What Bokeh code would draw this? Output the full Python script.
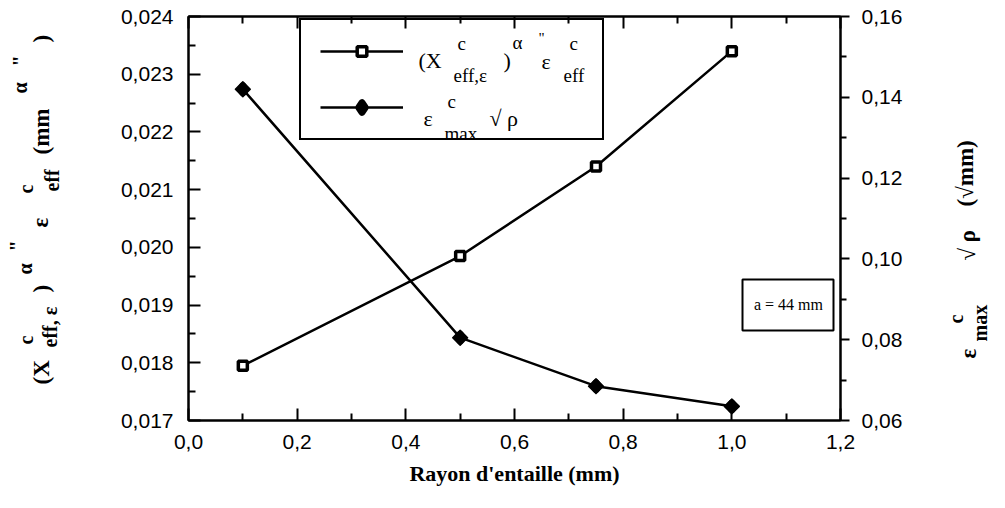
import numpy as np
from bokeh.plotting import figure
from bokeh.layouts import row
from bokeh.models import (Range1d, LinearAxis, FixedTicker, Label, BoxAnnotation,
                          Legend, LegendItem)
from bokeh.embed import file_html
from bokeh.resources import INLINE
from bokeh.core.properties import value

# ---------------- data ----------------
radius = [0.1, 0.5, 0.75, 1.0]                      # Rayon d'entaille (mm)
x_eff_alpha = [0.01795, 0.01985, 0.0214, 0.0234]    # left axis series (squares)
eps_max_sqrt_rho = [0.142, 0.0805, 0.0685, 0.0635]  # right axis series (diamonds)

x_ticks = [0.0, 0.2, 0.4, 0.6, 0.8, 1.0, 1.2]
x_tick_labels = ["0,0", "0,2", "0,4", "0,6", "0,8", "1,0", "1,2"]
x_minor = [0.1, 0.3, 0.5, 0.7, 0.9, 1.1]
left_ticks = [0.017, 0.018, 0.019, 0.020, 0.021, 0.022, 0.023, 0.024]
left_tick_labels = ["0,017", "0,018", "0,019", "0,020", "0,021", "0,022", "0,023", "0,024"]
left_minor = [0.0175, 0.0185, 0.0195, 0.0205, 0.0215, 0.0225, 0.0235]
right_ticks = [0.06, 0.08, 0.10, 0.12, 0.14, 0.16]
right_tick_labels = ["0,06", "0,08", "0,10", "0,12", "0,14", "0,16"]
right_minor = [0.07, 0.09, 0.11, 0.13, 0.15]

# ---------------- layout (page px) ----------------
H = 492
WL, WM, WR = 76, 866, 47          # left title / main chart / right title widths
ML = 8 + WL                       # page x of main figure
MR = ML + WM                      # page x of right title figure
L, R, T, B = 196, 848, 24, 428    # frame in page px
X0, X1 = 0.0, 1.2
Y0, Y1 = 0.017, 0.024
BT, BB = T - 8, H - (B - 8)       # top / bottom borders

p = figure(width=WM, height=H, x_range=Range1d(X0, X1), y_range=Range1d(Y0, Y1),
           output_backend="svg", toolbar_location=None,
           min_border_left=L - ML, min_border_right=MR - R,
           min_border_top=BT, min_border_bottom=BB)
p.extra_y_ranges = {"right": Range1d(0.06, 0.16)}
p.xgrid.visible = False
p.ygrid.visible = False
p.outline_line_color = "black"
p.outline_line_width = 2
p.background_fill_color = "white"
p.border_fill_color = "white"

TICK_FONT = "Liberation Sans"
TICK_SIZE = "21px"

def style_axis(ax):
    ax.axis_line_width = 2
    ax.major_tick_line_width = 2
    ax.minor_tick_line_width = 2
    ax.major_label_text_font = TICK_FONT
    ax.major_label_text_font_size = TICK_SIZE
    ax.major_label_text_color = "black"

# bottom axis
xa = p.xaxis[0]
xa.ticker = FixedTicker(ticks=x_ticks, minor_ticks=x_minor)
xa.major_label_overrides = dict(zip(x_ticks, x_tick_labels))
style_axis(xa)
xa.major_tick_in, xa.major_tick_out = 12, 0
xa.minor_tick_in, xa.minor_tick_out = 7, 0
xa.major_label_standoff = 14
xa.axis_label = "Rayon d'entaille (mm)"
xa.axis_label_text_font = "Liberation Serif"
xa.axis_label_text_font_style = "bold"
xa.axis_label_text_font_size = "22px"
xa.axis_label_text_color = "black"
xa.axis_label_standoff = 9

# top axis (ticks only)
ta = LinearAxis(ticker=FixedTicker(ticks=x_ticks, minor_ticks=x_minor))
style_axis(ta)
ta.major_label_overrides = {t: "" for t in x_ticks}
ta.major_label_text_font_size = "0px"
ta.major_label_standoff = 0
ta.major_tick_in, ta.major_tick_out = 12, 0
ta.minor_tick_in, ta.minor_tick_out = 7, 0
p.add_layout(ta, "above")

# left axis
ya = p.yaxis[0]
ya.ticker = FixedTicker(ticks=left_ticks, minor_ticks=left_minor)
ya.major_label_overrides = dict(zip(left_ticks, left_tick_labels))
style_axis(ya)
ya.major_tick_in, ya.major_tick_out = 12, 0
ya.minor_tick_in, ya.minor_tick_out = 7, 0
ya.major_label_standoff = 15

# right axis
ra = LinearAxis(y_range_name="right",
                ticker=FixedTicker(ticks=right_ticks, minor_ticks=right_minor))
ra.major_label_overrides = dict(zip(right_ticks, right_tick_labels))
style_axis(ra)
ra.major_tick_in, ra.major_tick_out = 0, 9
ra.minor_tick_in, ra.minor_tick_out = 0, 6
ra.major_label_standoff = 12
p.add_layout(ra, "right")

# ---------------- data glyphs ----------------
l1 = p.line(radius, x_eff_alpha, line_color="black", line_width=2.5)
s1 = p.scatter(radius, x_eff_alpha, marker="square", size=9, fill_color="white",
               line_color="black", line_width=3.5)
l2 = p.line(radius, eps_max_sqrt_rho, y_range_name="right", line_color="black", line_width=2.5)
# diamond shape used by the legend (hidden under the plotted markers)
s2_leg = p.scatter(radius, eps_max_sqrt_rho, y_range_name="right", marker="diamond",
                   size=7, fill_color="black", line_color="black", line_width=7,
                   line_join="round")
s2 = p.scatter(radius, eps_max_sqrt_rho, y_range_name="right", marker="square",
               angle=np.pi / 4, size=10.5, fill_color="black", line_color="black",
               line_width=1.5, line_join="round")

# ---------------- legend ----------------
leg = Legend(items=[LegendItem(label=" ", renderers=[l1, s1]),
                    LegendItem(label=" ", renderers=[l2, s2_leg])],
             location=(307 - L, B - 148), orientation="vertical",
             glyph_width=83, glyph_height=24, spacing=32, padding=19,
             label_width=180, label_standoff=0, margin=0,
             border_line_color="black", border_line_width=2.5, border_line_alpha=1.0,
             background_fill_alpha=0.0)
p.add_layout(leg, "center")

# ---------------- text helpers ----------------
def d(xp, yp):
    return (X0 + (xp - L) / (R - L) * (X1 - X0),
            Y1 - (yp - T) / (B - T) * (Y1 - Y0))

def txt(s, xp, yp, size, align="left"):
    xd, yd = d(xp, yp)
    p.add_layout(Label(x=xd, y=yd, text=s, text_font="Liberation Serif",
                       text_font_size=f"{size}px", text_align=align,
                       text_baseline="middle", text_color="black"))

# legend texts
LM, LS = 22, 19
for s, xp, yp, sz in [("(X", 426, 68, LM), ("c", 465, 51, LS), ("eff,ε", 461, 83, LS),
                      (")", 511, 68, LM), ("α", 520, 50, LS), ("\"", 546, 45, 15),
                      ("ε", 549, 69, LM), ("c", 577, 51, LS), ("eff", 571, 83, LS),
                      ("ε", 431, 126, LM), ("c", 455, 109, LS), ("max", 452, 141, LS),
                      ("√ ρ", 497, 126, LM)]:
    txt(s, xp, yp, sz)

# annotation box "a = 44 mm"
bx0, by0 = d(750, 287)
bx1, by1 = d(841, 338)
p.add_layout(BoxAnnotation(left=bx0, right=bx1, top=by0, bottom=by1,
                           fill_color="white", fill_alpha=1.0,
                           line_color="black", line_width=2, line_alpha=1.0))
txt("a = 44 mm", 796, 312, 16, align="center")

# ---------------- rotated axis titles (separate text panels, frames aligned) ----------------
V = np.pi / 2
MS, SS = 23, 20

def title_fig(width, x_page0, pieces):
    f = figure(width=width, height=H, title=None,
               x_range=Range1d(x_page0, x_page0 + width), y_range=Range1d(B, T),
               output_backend="svg", toolbar_location=None,
               min_border_left=0, min_border_right=0,
               min_border_top=BT, min_border_bottom=BB,
               x_axis_location=None, y_axis_location=None, outline_line_color=None)
    f.grid.visible = False
    f.background_fill_color = "white"
    f.border_fill_color = "white"
    for s, xp, yp, sz in pieces:
        f.text(x=[xp], y=[yp], text=[s], angle=V,
               text_font=value("Liberation Serif"), text_font_size=value(f"{sz}px"),
               text_font_style=value("bold"), text_align=value("left"),
               text_baseline=value("middle"), text_color="black")
    return f

left_title = title_fig(WL, 8, [
    ("(X", 49, 392, MS), ("c", 33, 352, SS), ("eff, ε", 57, 355, SS),
    (")", 49, 300, MS), ("α", 32, 282, SS), ("\"", 24, 259, SS),
    ("ε", 48, 235, MS), ("c", 33, 201, SS), ("eff", 59, 199, SS),
    ("(mm", 49, 162, MS), ("α", 27, 101, SS), ("\"", 27, 74, SS),
    (")", 49, 50, MS)])

right_title = title_fig(WR, MR, [
    ("ε", 976, 366, MS), ("c", 963, 331, SS), ("max", 987, 349, SS),
    ("√ ρ", 975, 268, MS), ("(√mm)", 973, 214, MS)])

layout = row(left_title, p, right_title)
open("out.html", "w").write(file_html(layout, INLINE))
